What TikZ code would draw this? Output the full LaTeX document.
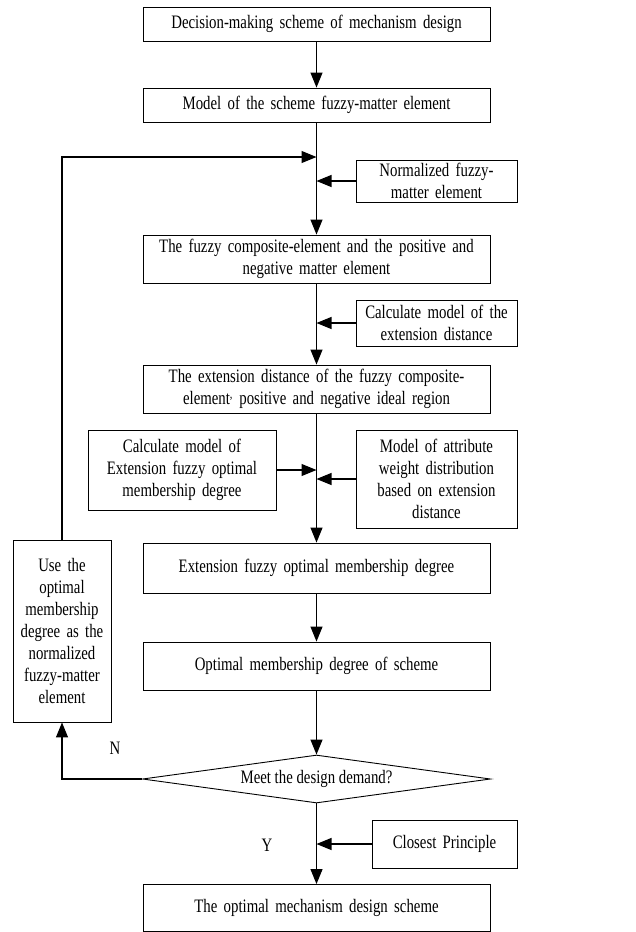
\documentclass[tikz,border=0pt]{standalone}
\usepackage{fontspec}
\setmainfont{Liberation Serif}[FakeStretch=0.78]
\usetikzlibrary{arrows.meta,shapes.geometric}

\begin{document}
\begin{tikzpicture}[>={Triangle[length=15pt,width=12pt]},x=1pt,y=-1pt,
  font=\fontsize{19}{22}\selectfont,
  box/.style={draw,line width=0.9pt,align=center,inner sep=2pt},
  mainbox/.style={box,text width=343pt,minimum height=#1},
  flow/.style={->,line width=1.1pt}]
  \useasboundingbox (0,0) rectangle (635,932);
  % main column
  \node[mainbox=34pt] (dec) at (316.5,24) {Decision-making scheme of mechanism design};
  \node[mainbox=34pt] (model) at (316.5,105) {Model of the scheme fuzzy-matter element};
  \node[mainbox=48pt] (fuzzy) at (316.5,259) {The fuzzy composite-element and the positive and\\negative matter element};
  \node[mainbox=48pt] (dist) at (316.5,389) {The extension distance of the fuzzy composite-\\element\textsuperscript{,} positive and negative ideal region};
  \node[mainbox=50pt] (ext) at (316.5,568) {Extension fuzzy optimal membership degree};
  \node[mainbox=48pt] (opt) at (316.5,666) {Optimal membership degree of scheme};
  \node[draw,line width=0.9pt,diamond,aspect=7.25,inner sep=0pt,minimum width=348pt,minimum height=48pt] (meet) at (316.5,779) {Meet the design demand?};
  \node[mainbox=47pt] (final) at (316.5,908) {The optimal mechanism design scheme};
  % side boxes
  \node[box,text width=157pt,minimum height=42pt] (norm) at (436.5,181) {Normalized fuzzy-\\matter element};
  \node[box,text width=157pt,minimum height=46pt] (calc) at (436.5,323) {Calculate model of the\\extension distance};
  \node[box,text width=184pt,minimum height=80pt] (calcopt) at (182,470) {Calculate model of\\Extension fuzzy optimal\\membership degree};
  \node[box,text width=157pt,minimum height=98pt] (attr) at (436.5,479) {Model of attribute\\weight distribution\\based on extension\\distance};
  \node[box,text width=94pt,minimum height=182pt] (use) at (62,631) {Use the\\optimal\\membership\\degree as the\\normalized\\fuzzy-matter\\element};
  \node[box,text width=141pt,minimum height=48pt] (close) at (444.5,844) {Closest Principle};
  \node (nlab) at (115,748) {N};
  \node (ylab) at (267,845) {Y};
  \coordinate (back) at (316.5,157);
  % connectors
  \foreach \a/\b in {dec/model,model/fuzzy,fuzzy/dist,dist/ext,ext/opt,opt/meet,meet/final}
    \draw[flow] (\a) -- (\b);
  \draw[flow] (norm) -- (norm -| model.south);
  \draw[flow] (calc) -- (calc -| fuzzy.south);
  \draw[flow] (calcopt) -- (calcopt -| dist.south);
  \draw[flow] (attr) -- (attr -| dist.south);
  \draw[flow] (close) -- (close -| final.north);
  \draw[flow] (use.north) |- (back);
  \draw[flow] (meet.west) -| (use.south);
\end{tikzpicture}
\end{document}
